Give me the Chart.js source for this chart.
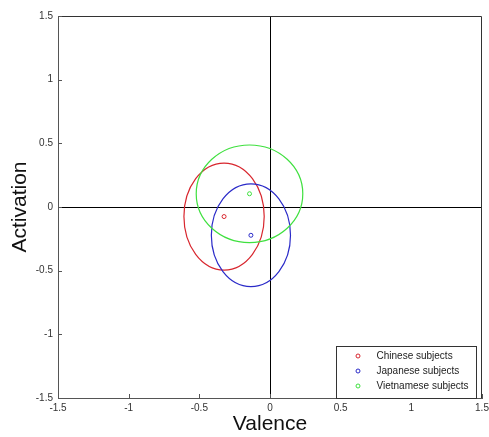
<!DOCTYPE html>
<html>
<head>
<meta charset="utf-8">
<script src="https://cdn.jsdelivr.net/npm/chart.js@4"></script>
<style>
  html, body { margin: 0; padding: 0; background: #fff; }
  #wrap { width: 489px; height: 437px; }
</style>
</head>
<body>
<div id="wrap"><canvas id="myChart" width="489" height="437"></canvas></div>
<script>
const ctx = document.getElementById("myChart");

const groups = ["Chinese subjects", "Japanese subjects", "Vietnamese subjects"];
const colors = ["#d8262e", "#2a2ac8", "#3fe03f"];
const meanValence = [-0.325, -0.135, -0.145];
const meanActivation = [-0.075, -0.222, 0.104];
const sdValence = [0.284, 0.28, 0.377];
const sdActivation = [0.42, 0.403, 0.383];
const tickValues = [-1.5, -1, -0.5, 0, 0.5, 1, 1.5];

//. Ellipses round each mean, drawn through the scales
const ellipsePlugin = {
  id: "ellipses",
  afterDatasetsDraw(chart) {
    const { ctx, scales: { x, y }, chartArea } = chart;
    ctx.save();
    ctx.beginPath();
    ctx.rect(chartArea.left, chartArea.top, chartArea.width, chartArea.height);
    ctx.clip();
    ctx.lineWidth = 1.2;
    groups.forEach((g, i) => {
      const cx = x.getPixelForValue(meanValence[i]);
      const cy = y.getPixelForValue(meanActivation[i]);
      const rx = x.getPixelForValue(meanValence[i] + sdValence[i]) - cx;
      const ry = cy - y.getPixelForValue(meanActivation[i] + sdActivation[i]);
      ctx.strokeStyle = colors[i];
      ctx.beginPath();
      ctx.ellipse(cx, cy, rx, ry, 0, 0, Math.PI * 2);
      ctx.stroke();
    });
    ctx.restore();
  },
};

//. Box, inward ticks and the legend
const framePlugin = {
  id: "frame",
  afterDraw(chart) {
    const { ctx, scales: { x, y }, chartArea: a } = chart;
    ctx.save();
    ctx.lineWidth = 1;
    ctx.strokeStyle = "#333";
    ctx.beginPath();
    ctx.moveTo(a.left, a.top + 0.5);
    ctx.lineTo(a.right - 0.5, a.top + 0.5);
    ctx.lineTo(a.right - 0.5, a.bottom);
    ctx.stroke();

    ctx.strokeStyle = "#555";
    ctx.beginPath();
    tickValues.forEach((v) => {
      const px = Math.round(x.getPixelForValue(v)) + 0.5;
      ctx.moveTo(px, a.bottom);
      ctx.lineTo(px, a.bottom - 4);
      const py = Math.round(y.getPixelForValue(v)) + 0.5;
      ctx.moveTo(a.left, py);
      ctx.lineTo(a.left + 4, py);
    });
    ctx.stroke();

    // legend box in the lower right corner
    const bx = a.right - 145.5, by = a.bottom - 52, bw = 140, bh = 52;
    ctx.fillStyle = "#fff";
    ctx.fillRect(bx, by, bw, bh);
    ctx.strokeStyle = "#333";
    ctx.strokeRect(bx, by + 0.5, bw, bh);
    ctx.font = "10px 'Liberation Sans', Arial, sans-serif";
    ctx.textBaseline = "middle";
    ctx.textAlign = "left";
    groups.forEach((g, i) => {
      const ly = by + 10 + i * 15;
      ctx.strokeStyle = colors[i];
      ctx.beginPath();
      ctx.arc(bx + 21.5, ly, 2, 0, Math.PI * 2);
      ctx.stroke();
      ctx.fillStyle = "#222";
      ctx.fillText(g, bx + 40, ly);
    });
    ctx.restore();
  },
};

//. Defining chart
let myChart = new Chart(ctx, {
  type: "scatter",
  data: {
    datasets: groups.map((g, i) => ({
      label: g,
      data: [{ x: meanValence[i], y: meanActivation[i] }],
      borderColor: colors[i],
      backgroundColor: "transparent",
      pointRadius: 2,
      pointBorderWidth: 1,
    })),
  },
  options: {
    responsive: false,
    animation: false,
    layout: { padding: { top: 16, right: 7, left: 0, bottom: 0 } },
    plugins: { legend: { display: false }, tooltip: { enabled: false } },
    scales: {
      x: {
        type: "linear",
        min: -1.5,
        max: 1.5,
        afterBuildTicks: (s) => { s.ticks = tickValues.map((v) => ({ value: v })); },
        afterFit: (s) => { s.height = 39; s.paddingLeft = 0; s.paddingRight = 0; },
        ticks: {
          padding: 4,
          color: "#333",
          font: { family: "'Liberation Sans', Arial, sans-serif", size: 10 },
          callback: (v) => String(v),
          maxRotation: 0,
        },
        grid: {
          drawTicks: false,
          color: (c) => (c.tick && c.tick.value === 0 ? "#000" : "transparent"),
        },
        border: { display: true, color: "#555" },
        title: {
          display: true,
          text: "Valence",
          color: "#111",
          padding: { top: 0, bottom: 0 },
          font: { family: "'Liberation Sans', Arial, sans-serif", size: 21 },
        },
      },
      y: {
        type: "linear",
        min: -1.5,
        max: 1.5,
        afterBuildTicks: (s) => { s.ticks = tickValues.map((v) => ({ value: v })); },
        afterFit: (s) => { s.width = 58; s.paddingTop = 0; s.paddingBottom = 0; },
        ticks: {
          padding: 5,
          color: "#333",
          font: { family: "'Liberation Sans', Arial, sans-serif", size: 10 },
          callback: (v) => String(v),
        },
        grid: {
          drawTicks: false,
          color: (c) => (c.tick && c.tick.value === 0 ? "#000" : "transparent"),
        },
        border: { display: true, color: "#555" },
        title: {
          display: true,
          text: "Activation",
          color: "#111",
          padding: { top: 8, bottom: 0 },
          font: { family: "'Liberation Sans', Arial, sans-serif", size: 21 },
        },
      },
    },
  },
  plugins: [ellipsePlugin, framePlugin],
});
</script>
</body>
</html>
